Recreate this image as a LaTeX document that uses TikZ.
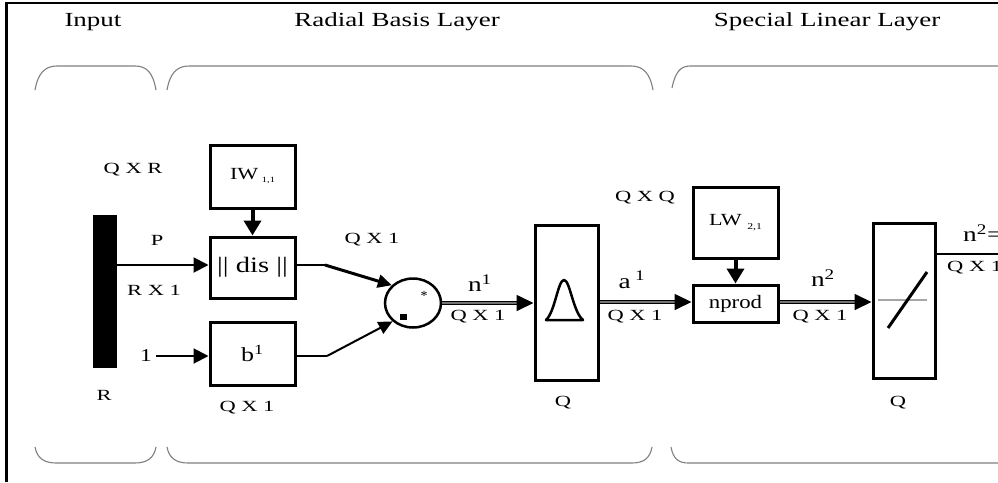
\documentclass[tikz,border=0pt]{standalone}
\usepackage{fontspec}
\setmainfont{Liberation Serif}
\usetikzlibrary{arrows.meta,shapes.geometric,calc}
\newcommand{\sx}[2][1.3]{\scalebox{#1}[1]{#2}}
\begin{document}
\begin{tikzpicture}[x=1pt,y=-1pt,
  box/.style={draw, line width=3pt, minimum width=85pt, inner sep=0pt, rectangle},
  tallbox/.style={draw, line width=3pt, minimum width=63pt, minimum height=155pt, inner sep=0pt, rectangle},
  lbl/.style={inner sep=0pt, font=\fontsize{15.5}{15.5}\selectfont},
  big/.style={inner sep=0pt, font=\fontsize{21}{21}\selectfont},
  ttl/.style={inner sep=0pt, font=\fontsize{20}{20}\selectfont},
  brace/.style={black!50, line width=1.1pt},
  arr/.style={line width=2pt, -{Triangle[length=15pt,width=15pt]}},
  thickarr/.style={line width=4pt, -{Triangle[length=15pt,width=17pt]}},
  dbl/.style={line width=1.7pt, double=black!55, double distance=1.5pt, -{Triangle[length=17pt,width=16pt]}},
  thinln/.style={line width=1.5pt}]
\useasboundingbox (0,0) rectangle (998,482);
\clip (0,0) rectangle (998,482);
\fill[white] (0,0) rectangle (998,482);
% frame
\draw[line width=2.5pt] (6.5,482) -- (6.5,3) -- (998,3);
% titles
\node[ttl] (tin) at (93,22) {\sx[1.35]{Input}};
\node[ttl] (trb) at (397,22) {\sx[1.35]{Radial Basis Layer}};
\node[ttl] (tsl) at (827,22) {\sx[1.35]{Special Linear Layer}};
% braces top
\draw[brace] (35,90) .. controls (38,73) and (45,66) .. (57,66) -- (135,66) .. controls (147,66) and (153,73) .. (156,90);
\draw[brace] (167,90) .. controls (170,73) and (177,66) .. (189,66) -- (631,66) .. controls (643,66) and (650,73) .. (653,90);
\draw[brace] (672,88) .. controls (675,73) and (680,66) .. (690,66) -- (998,66);
% braces bottom
\draw[brace] (35,447) .. controls (37,458) and (44,463) .. (56,463) -- (135,463) .. controls (147,463) and (154,458) .. (156,447);
\draw[brace] (167,447) .. controls (169,458) and (176,463) .. (188,463) -- (632,463) .. controls (644,463) and (650,458) .. (652,447);
\draw[brace] (671,447) .. controls (673,458) and (678,463) .. (688,463) -- (998,463);
% input bar
\node[fill=black, minimum width=24pt, minimum height=153pt, inner sep=0pt] (bar) at (105,291.5) {};
\node[lbl] (qxr) at (133,170) {\sx[1.45]{Q X R}};
\node[lbl] (p) at (157,240) {\sx[1.45]{P}};
\node[lbl] (rx1) at (154,290) {\sx[1.45]{R X 1}};
\node[lbl] (r) at (104,395) {\sx[1.45]{R}};
\node[inner sep=0pt, font=\fontsize{18}{18}\selectfont] (one) at (146,356) {\sx{1}};
% radial basis boxes
\node[box, minimum height=63pt, font=\fontsize{17}{17}\selectfont] (iw) at (252.5,176.5) {\sx{IW\,\raisebox{-3pt}{\fontsize{8}{8}\selectfont 1,1}}};
\node[box, minimum height=61pt, font=\fontsize{22}{22}\selectfont] (dis) at (252.5,267.5) {\sx[1.3]{\textbar\textbar\ dis \textbar\textbar}};
\node[box, minimum height=63pt, font=\fontsize{20}{20}\selectfont] (b) at (252.5,353.5) {\sx{b\textsuperscript{1}}};
\node[lbl] (qx1b) at (247,408) {\sx[1.45]{Q X 1}};
% junction
\node[draw, ellipse, line width=2.5pt, minimum width=56pt, minimum height=49pt, inner sep=0pt] (circ) at (413,303) {};
\node[inner sep=0pt, font=\fontsize{14}{14}\selectfont] (star) at (424,296) {*};
\node[fill=black, minimum width=7pt, minimum height=6pt, inner sep=0pt] (sq) at (403,317) {};
\node[lbl] (qx1c) at (372,240) {\sx[1.45]{Q X 1}};
\coordinate (j1) at (325,265);
\coordinate (j2) at (327,356);
% gaussian box
\node[tallbox] (gauss) at (566.5,302.5) {};
\draw[line width=2.5pt, line join=round] (546,320) .. controls (555,312) and (558,280) .. (564,280) .. controls (570,280) and (573,312) .. (583,320) -- cycle;
\node[big] (n1) at (480,283) {\sx{n\textsuperscript{1}}};
\node[lbl] (qx1d) at (478,317) {\sx[1.45]{Q X 1}};
\node[lbl] (qg) at (563,403) {\sx[1.45]{Q}};
% special linear layer
\node[big] (a1) at (632,280) {\sx{a\,\textsuperscript{1}}};
\node[lbl] (qx1e) at (635,317) {\sx[1.45]{Q X 1}};
\node[lbl] (qxq) at (645,198) {\sx[1.45]{Q X Q}};
\node[box, minimum height=71pt, font=\fontsize{17}{17}\selectfont] (lw) at (735.5,222.5) {\sx{LW \raisebox{-4pt}{\fontsize{9}{9}\selectfont 2,1}}};
\node[box, minimum height=37pt, font=\fontsize{19}{19}\selectfont] (nprod) at (735.5,303.5) {\sx[1.2]{nprod}};
\node[big] (n2) at (823,278) {\sx{n\textsuperscript{2}}};
\node[lbl] (qx1f) at (820,317) {\sx[1.45]{Q X 1}};
\node[tallbox, minimum width=62pt] (lin) at (904,300.5) {};
\draw[black!35, line width=1.2pt] (878,300) -- (927,300);
\draw[line width=3pt] (888,328) -- (927,272);
\node[lbl] (ql) at (898,403) {\sx[1.45]{Q}};
\coordinate (out) at (1000,254);
\node[big, anchor=west] (n2eq) at (963,233) {\sx{n\textsuperscript{2}=}};
\node[lbl, anchor=west] (qx1g) at (947,268) {\sx[1.45]{Q X 1}};
% connectors
\draw[arr] (bar.east |- 0,265) -- (dis.west |- 0,265);
\draw[arr] (one.east) ++(4,0) -- (one.east -| b.west);
\draw[thickarr] (iw.south) -- (dis.north);
\draw[thinln] (j1 -| dis.east) -- (j1);
\draw[line width=3pt, -{Triangle[length=14pt,width=13pt]}] (j1) -- (circ.140);
\draw[thinln] (j2 -| b.east) -- (j2);
\draw[line width=2pt, -{Triangle[length=14pt,width=13pt]}] (j2) -- (circ.222);
\draw[dbl] (circ.east) -- (circ.east -| gauss.west);
\draw[dbl] (gauss.east |- 0,302) -- (nprod.west |- 0,302);
\draw[thickarr] (lw.south) -- (nprod.north);
\draw[dbl] (nprod.east |- 0,302) -- (lin.west |- 0,302);
\draw[line width=2.5pt] (lin.east |- out) -- (out);
\end{tikzpicture}
\end{document}
